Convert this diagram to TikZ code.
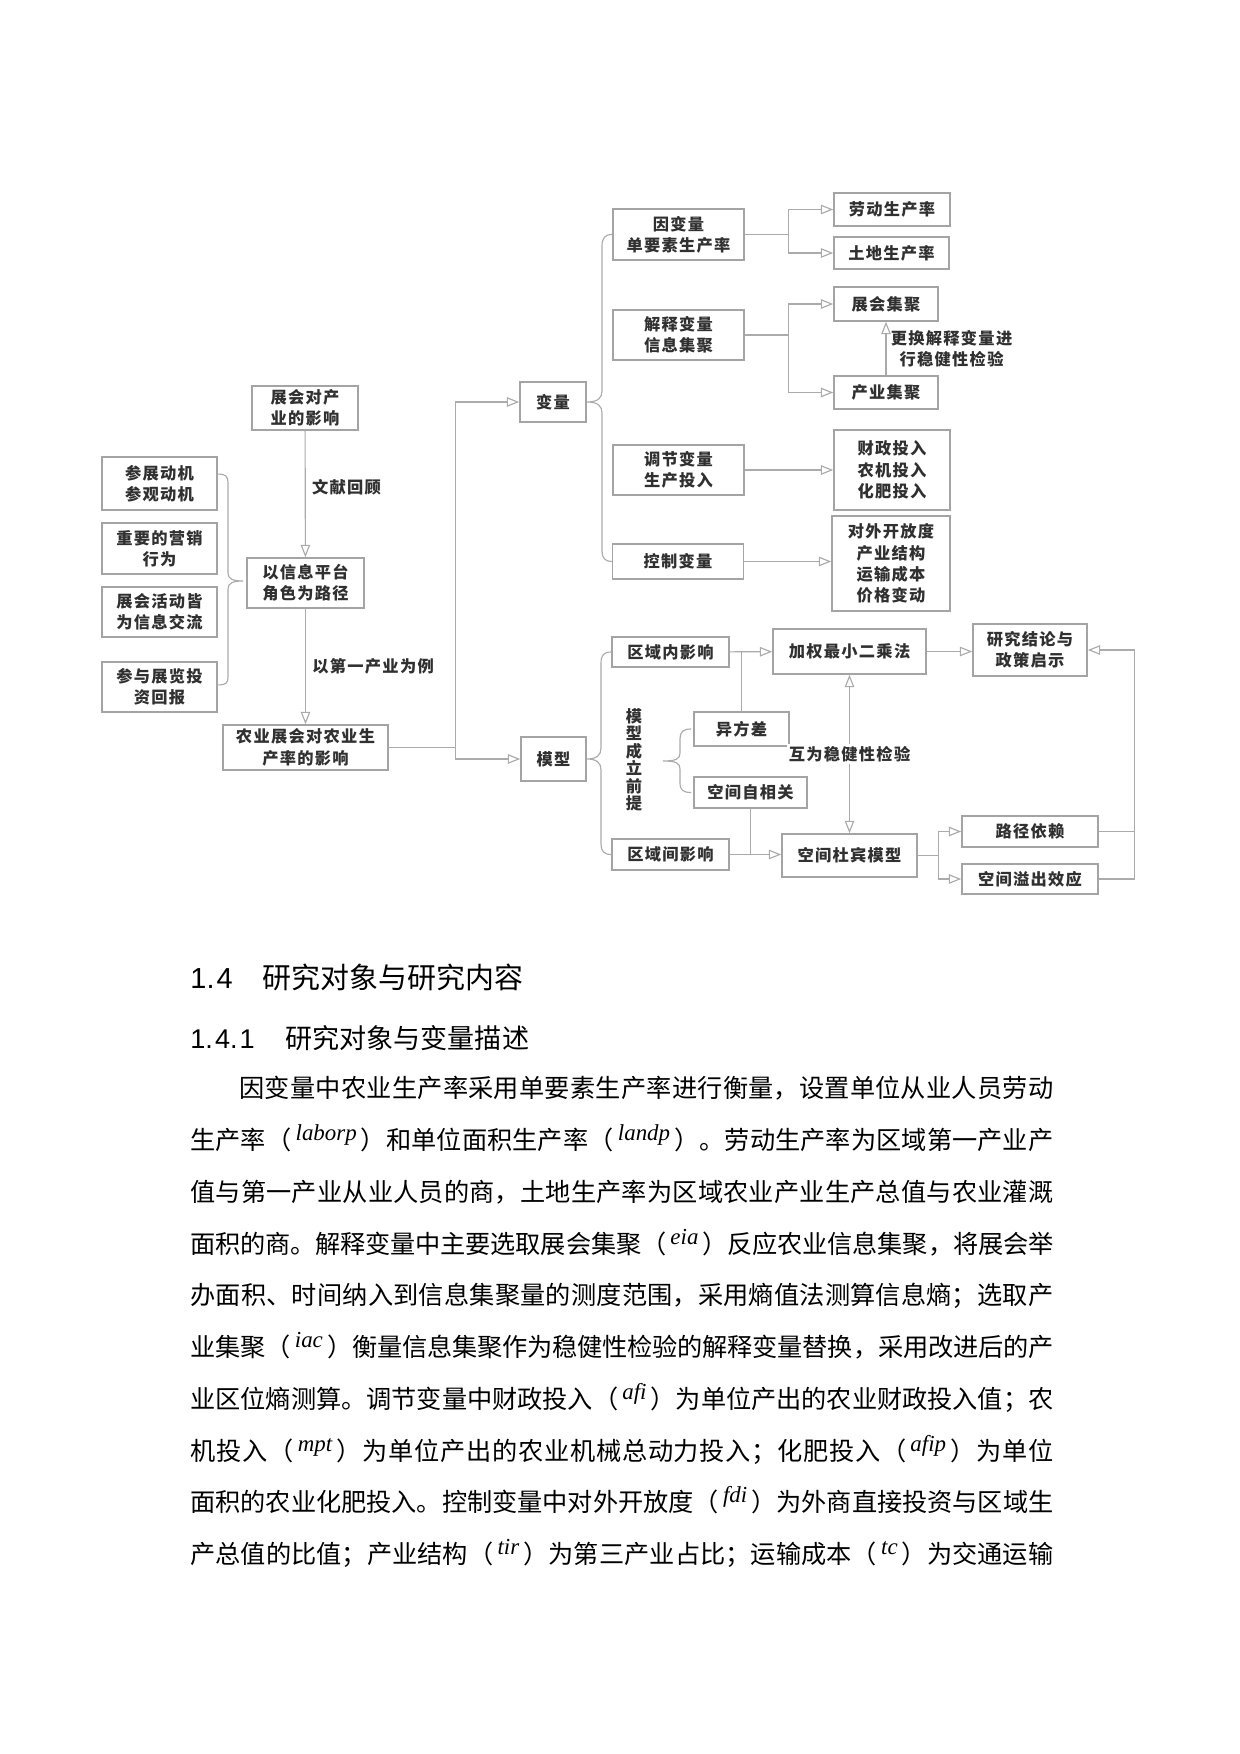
\documentclass[tikz,border=0pt]{standalone}
\usepackage{fontspec}
\setmainfont{Liberation Serif}
\setsansfont{Liberation Sans}
\newfontfamily\cjk{Noto Sans CJK SC}
\newfontfamily\figcjk[LetterSpace=8]{Noto Sans CJK SC}
\usetikzlibrary{arrows.meta}
\XeTeXlinebreaklocale "zh"
\XeTeXlinebreakskip=0pt plus 2pt minus 0.3pt
\newdimen\pxu \pxu=0.4801pt
\definecolor{boxgray}{HTML}{A4A4A4}
\definecolor{linegray}{HTML}{ABABAB}
\definecolor{figtext}{HTML}{303030}
\newcommand\figfont{\figcjk\bfseries\fontsize{7.8pt}{10.2pt}\selectfont}
\newcommand\vfont{\figcjk\bfseries\fontsize{7.8pt}{8.4pt}\selectfont}
\newcommand\bodyfont{\cjk\fontsize{12.1pt}{15pt}\selectfont}
\newcommand\vname[1]{\,\raisebox{4pt}{\rmfamily\itshape\fontsize{11pt}{12pt}\selectfont #1}\,}
\newcommand\bodyline[2]{\parbox[b]{#1\pxu}{\parindent=0pt\parfillskip=0pt #2\par}}
\begin{document}
\begin{tikzpicture}[x=0.4801pt, y=-0.4801pt,
  box/.style={draw=boxgray, line width=0.7pt, fill=white, inner sep=0pt,
    align=center, text=figtext, font=\figfont},
  wh/.style 2 args={minimum width=#1*\pxu, minimum height=#2*\pxu},
  conn/.style={draw=linegray, line width=0.55pt},
  arr/.style={conn, -{Triangle[open, length=6pt, width=4.6pt]}},
  biarr/.style={conn, {Triangle[open, length=6pt, width=4.6pt]}-{Triangle[open, length=6pt, width=4.6pt]}},
  lbl/.style={inner sep=1pt, align=center, text=figtext, font=\figfont},
  txt/.style={anchor=base west, inner sep=0pt, font=\bodyfont}]
  \useasboundingbox (0,0) rectangle (1240,1754);
  % left column
  \node[box, wh={106}{44}] (impact) at (305,408) {展会对产\\业的影响};
  \node[box, wh={117}{50}] (path) at (305.5,583) {以信息平台\\角色为路径};
  \node[box, wh={165}{45}] (agri) at (305.5,747.5) {农业展会对农业生\\产率的影响};
  \node[box, wh={115}{53}] (motive) at (159.5,483.5) {参展动机\\参观动机};
  \node[box, wh={115}{51}] (market) at (159.5,548.5) {重要的营销\\行为};
  \node[box, wh={115}{50}] (info) at (159.5,612) {展会活动皆\\为信息交流};
  \node[box, wh={115}{50}] (invest) at (159.5,687) {参与展览投\\资回报};
  \draw[arr] (impact) -- node[lbl, right=2pt, pos=.45] {文献回顾} (path);
  \draw[arr] (path) -- node[lbl, right=2pt] {以第一产业为例} (agri);
  \draw[conn] ([yshift=4.5pt]motive.east) .. controls (226,474) and (228,476) .. (228,484)
    -- (228,573) .. controls (228,579) and (233,581) .. (243,581)
    .. controls (233,581) and (228,583) .. (228,589) -- (228,677)
    .. controls (228,683) and (226,685) .. ([yshift=1pt]invest.east);
  % variables
  \node[box, wh={66}{40}] (var) at (553,402) {变量};
  \node[box, wh={65}{44}] (model) at (553.5,759) {模型};
  \draw[conn] (agri.east) -- ++(67,0) coordinate (split);
  \draw[arr] (split) |- (var.west);
  \draw[arr] (split) |- (model.west);
  \node[box, wh={131}{51}] (dep) at (678.5,234.5) {因变量\\单要素生产率};
  \node[box, wh={131}{50}] (expl) at (678.5,335) {解释变量\\信息集聚};
  \node[box, wh={131}{50}] (adj) at (678.5,470) {调节变量\\生产投入};
  \node[box, wh={131}{35}] (ctrl) at (678,561.5) {控制变量};
  \node[box, wh={116}{33}] (labp) at (892,209.5) {劳动生产率};
  \node[box, wh={115}{32}] (landp) at (891.5,253) {土地生产率};
  \node[box, wh={104}{34}] (eia) at (886,304) {展会集聚};
  \node[box, wh={104}{33}] (iac) at (886,392.5) {产业集聚};
  \node[box, wh={116}{80}] (inputs) at (892,470) {财政投入\\农机投入\\化肥投入};
  \node[box, wh={118}{95}] (ctrls) at (891,563.5) {对外开放度\\产业结构\\运输成本\\价格变动};
  \draw[conn] (dep.west) .. controls (605,234.5) and (602,238) .. (602,246) -- (602,391)
    .. controls (602,398) and (598,402) .. (var.east)
    .. controls (598,402) and (602,406) .. (602,413) -- (602,551)
    .. controls (602,558) and (605,561.5) .. (ctrl.west);
  \draw[arr] (dep.east) -- ++(44,0) coordinate (depsplit) |- (labp.west);
  \draw[arr] (depsplit) |- (landp.west);
  \draw[arr] (expl.east) -- ++(44,0) coordinate (explsplit) |- (eia.west);
  \draw[arr] (explsplit) |- (iac.west);
  \draw[arr] (iac) -- node[lbl, right=1pt] {更换解释变量进\\行稳健性检验} (eia);
  \draw[arr] (adj) -- (inputs);
  \draw[arr] (ctrl.east) -- (ctrl.east -| ctrls.west);
  % model
  \node[box, wh={117}{30}] (intra) at (670.5,652) {区域内影响};
  \node[box, wh={117}{31}] (inter) at (670.5,854.5) {区域间影响};
  \node[box, wh={153}{45}] (wls) at (849.5,651.5) {加权最小二乘法};
  \node[box, wh={95}{34}] (hetero) at (741.5,729) {异方差};
  \node[box, wh={113}{31}] (spauto) at (750.5,792.5) {空间自相关};
  \node[box, wh={135}{43}] (sdm) at (849.5,855.5) {空间杜宾模型};
  \node[box, wh={114}{52}] (concl) at (1030,650) {研究结论与\\政策启示};
  \node[box, wh={136}{31}] (pathdep) at (1030,831.5) {路径依赖};
  \node[box, wh={136}{30}] (spill) at (1030,879) {空间溢出效应};
  \node[lbl, font=\vfont] (premise) at (634,760) {模\\型\\成\\立\\前\\提};
  \draw[conn] (intra.west) .. controls (604,652) and (601,655) .. (601,663) -- (601,748)
    .. controls (601,755) and (597,759) .. (model.east)
    .. controls (597,759) and (601,763) .. (601,770) -- (601,844)
    .. controls (601,851) and (604,854.5) .. (inter.west);
  \draw[conn] ([xshift=-1pt]hetero.west) .. controls (683,729) and (680,732) .. (680,739)
    -- (680,753) .. controls (680,759) and (676,761) .. (663,761)
    .. controls (676,761) and (680,763) .. (680,769) -- (680,783)
    .. controls (680,790) and (683,792.5) .. ([xshift=-1pt]spauto.west);
  \draw[arr] (intra) -- (wls);
  \draw[conn] (hetero.north) -- (hetero.north |- intra.east);
  \draw[arr] (inter.east) -- (inter.east -| sdm.west);
  \draw[conn] (spauto.south) -- (spauto.south |- inter.east);
  \draw[biarr] (wls) -- node[lbl, fill=white] {互为稳健性检验} (sdm);
  \draw[arr] (wls.east) -- (wls.east -| concl.west);
  \draw[arr] (sdm.east) -- ++(21,0) coordinate (sdmsplit) |- (pathdep.west);
  \draw[arr] (sdmsplit) |- (spill.west);
  \draw[conn] (spill.east) -- ++(36,0) coordinate (back) |- (pathdep.east);
  \draw[arr] (back) |- (concl.east);
  % text below
  \node[txt, font=\cjk\fontsize{13.9pt}{16pt}\selectfont] (sec) at (190,988)
    {\makebox[72\pxu][l]{\sffamily 1.\kern1pt 4}研究对象与研究内容};
  \node[txt, font=\cjk\fontsize{13pt}{16pt}\selectfont] (subsec) at (190,1048)
    {\makebox[95\pxu][l]{\sffamily 1.\kern1pt 4.\kern1pt 1}研究对象与变量描述};
  \node[txt] (p1) at (239,1097) {\bodyline{814}{因变量中农业生产率采用单要素生产率进行衡量，设置单位从业人员劳动}};
  \node[txt] (p2) at (190,1149) {\bodyline{863}{生产率（\vname{laborp}）和单位面积生产率（\vname{landp}）。劳动生产率为区域第一产业产}};
  \node[txt] (p3) at (190,1201) {\bodyline{863}{值与第一产业从业人员的商，土地生产率为区域农业产业生产总值与农业灌溉}};
  \node[txt] (p4) at (190,1253) {\bodyline{863}{面积的商。解释变量中主要选取展会集聚（\vname{eia}）反应农业信息集聚，将展会举}};
  \node[txt] (p5) at (190,1304) {\bodyline{863}{办面积、时间纳入到信息集聚量的测度范围，采用熵值法测算信息熵；选取产}};
  \node[txt] (p6) at (190,1356) {\bodyline{863}{业集聚（\vname{iac}）衡量信息集聚作为稳健性检验的解释变量替换，采用改进后的产}};
  \node[txt] (p7) at (190,1408) {\bodyline{863}{业区位熵测算。调节变量中财政投入（\vname{afi}）为单位产出的农业财政投入值；农}};
  \node[txt] (p8) at (190,1460) {\bodyline{863}{机投入（\vname{mpt}）为单位产出的农业机械总动力投入；化肥投入（\vname{afip}）为单位}};
  \node[txt] (p9) at (190,1511) {\bodyline{863}{面积的农业化肥投入。控制变量中对外开放度（\vname{fdi}）为外商直接投资与区域生}};
  \node[txt] (p10) at (190,1563) {\bodyline{863}{产总值的比值；产业结构（\vname{tir}）为第三产业占比；运输成本（\vname{tc}）为交通运输}};
\end{tikzpicture}
\end{document}
